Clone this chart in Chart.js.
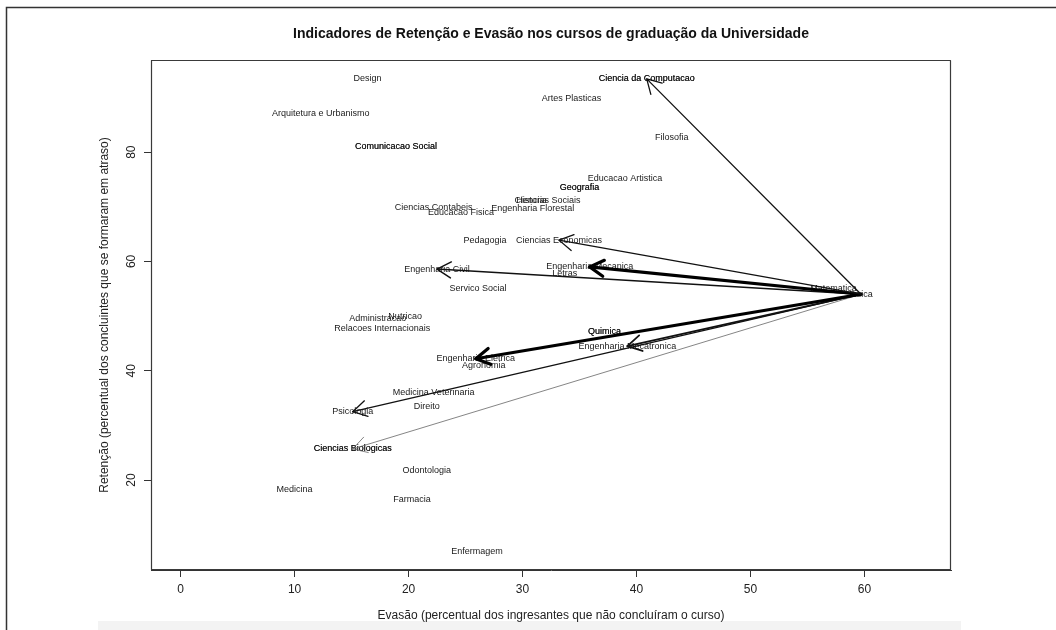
<!DOCTYPE html>
<html>
<head>
<meta charset="utf-8">
<script src="https://cdn.jsdelivr.net/npm/chart.js@4.4.1/dist/chart.umd.min.js"></script>
<style>
  html, body { margin: 0; padding: 0; background: #ffffff; }
  #wrap { width: 1056px; height: 630px; position: relative; }
</style>
</head>
<body>
<div id="wrap"><canvas id="grafico" width="1056" height="630"></canvas></div>
<script>
// Cursos de graduação: evasão (%) e retenção (%)
const cursos = [
  'Design', 'Ciencia da Computacao', 'Ciencia da Computacao', 'Artes Plasticas',
  'Arquitetura e Urbanismo', 'Filosofia', 'Comunicacao Social', 'Comunicacao Social',
  'Educacao Artistica', 'Geografia', 'Geografia', 'Historia', 'Ciencias Sociais',
  'Ciencias Contabeis', 'Educacao Fisica', 'Engenharia Florestal', 'Pedagogia',
  'Ciencias Economicas', 'Engenharia Mecanica', 'Engenharia Civil', 'Letras',
  'Matematica', 'Fisica', 'Servico Social', 'Nutricao', 'Administracao',
  'Relacoes Internacionais', 'Quimica', 'Quimica', 'Engenharia Mecatronica',
  'Engenharia Eletrica', 'Agronomia', 'Medicina Veterinaria', 'Direito', 'Psicologia',
  'Ciencias Biologicas', 'Ciencias Biologicas', 'Odontologia', 'Medicina', 'Farmacia',
  'Enfermagem'
];
const evasao = [
  16.4, 40.9, 40.9, 34.3,
  12.3, 43.1, 18.9, 18.9,
  39.0, 35.0, 35.0, 30.8, 32.2,
  22.2, 24.6, 30.9, 26.7,
  33.2, 35.9, 22.5, 33.7,
  57.3, 59.7, 26.1, 19.7, 17.3,
  17.7, 37.2, 37.2, 39.2,
  25.9, 26.6, 22.2, 21.6, 15.1,
  15.1, 15.1, 21.6, 10.0, 20.3,
  26.0
];
const retencao = [
  93.4, 93.4, 93.4, 89.9,
  87.1, 82.6, 81.0, 81.0,
  75.1, 73.6, 73.6, 71.1, 71.1,
  69.8, 68.9, 69.6, 63.9,
  63.9, 59.0, 58.6, 57.7,
  55.1, 54.0, 55.0, 50.0, 49.5,
  47.8, 47.1, 47.1, 44.5,
  42.2, 40.9, 36.1, 33.4, 32.5,
  25.7, 25.7, 21.7, 18.2, 16.5,
  7.0
];

// Fluxos a partir de um curso de origem
const origem = 'Fisica';
const destinos = [
  'Ciencia da Computacao', 'Ciencias Economicas', 'Engenharia Mecanica', 'Engenharia Civil',
  'Engenharia Eletrica', 'Engenharia Mecatronica', 'Psicologia', 'Ciencias Biologicas'
];

const xTicks = [0, 10, 20, 30, 40, 50, 60];
const yTicks = [20, 40, 60, 80];
const xLimites = [0, 65];

// estilo das setas (espessura e cor), na mesma ordem de "destinos"
const espessuras = [1.3, 1.3, 3.2, 1.5, 3.2, 1.8, 1.3, 0.8];
const coresSeta = ['#111', '#111', '#000', '#111', '#000', '#111', '#111', '#666'];

// expansão de 4% nos limites, como em gráficos base do R
function expandir(min, max) {
  const d = (max - min) * 0.04;
  return [min - d, max + d];
}
const [xMin, xMax] = expandir(xLimites[0], xLimites[1]);
const [yMin, yMax] = expandir(Math.min(...retencao), Math.max(...retencao));

const fonte = '"Liberation Sans", Arial, Helvetica, sans-serif';
const iOrig = cursos.indexOf(origem);

const pontos = cursos.map((c, i) => ({ x: evasao[i], y: retencao[i], nome: c }));

const setas = destinos.map((d, k) => {
  const j = cursos.indexOf(d);
  return {
    type: 'line',
    label: d,
    data: [{ x: evasao[iOrig], y: retencao[iOrig] }, { x: evasao[j], y: retencao[j] }],
    showLine: true,
    borderColor: coresSeta[k],
    borderWidth: espessuras[k],
    borderCapStyle: 'round',
    borderJoinStyle: 'round',
    pointRadius: 0,
    fill: false,
    tension: 0,
    seta: true
  };
});

// moldura externa e faixa inferior
const moldura = {
  id: 'moldura',
  beforeDraw(chart) {
    const ctx = chart.ctx;
    ctx.save();
    ctx.fillStyle = '#ffffff';
    ctx.fillRect(0, 0, chart.width, chart.height);
    ctx.fillStyle = '#f3f3f3';
    ctx.fillRect(98, 621, 863, 9);
    ctx.strokeStyle = '#333';
    ctx.lineWidth = 1.5;
    ctx.beginPath();
    ctx.moveTo(6.5, chart.height);
    ctx.lineTo(6.5, 7.5);
    ctx.lineTo(chart.width, 7.5);
    ctx.stroke();
    ctx.restore();
  }
};

// nomes dos cursos centrados em cada ponto
const rotulos = {
  id: 'rotulos',
  beforeDatasetsDraw(chart) {
    const ctx = chart.ctx;
    const xs = chart.scales.x, ys = chart.scales.y;
    ctx.save();
    ctx.font = '9px ' + fonte;
    ctx.fillStyle = '#1a1a1a';
    ctx.textAlign = 'center';
    ctx.textBaseline = 'middle';
    pontos.forEach(p => {
      ctx.fillText(p.nome, xs.getPixelForValue(p.x), ys.getPixelForValue(p.y));
    });
    ctx.restore();
  }
};

// pontas das setas, caixa do gráfico e rótulos do eixo y
const pontas = {
  id: 'pontas',
  afterDatasetsDraw(chart) {
    const ctx = chart.ctx;
    const xs = chart.scales.x, ys = chart.scales.y;
    ctx.save();
    chart.data.datasets.forEach(ds => {
      if (!ds.seta) return;
      const ox = xs.getPixelForValue(ds.data[0].x), oy = ys.getPixelForValue(ds.data[0].y);
      const tx = xs.getPixelForValue(ds.data[1].x), ty = ys.getPixelForValue(ds.data[1].y);
      const ang = Math.atan2(ty - oy, tx - ox);
      const L = 16, a = Math.PI / 6;
      ctx.strokeStyle = ds.borderColor;
      ctx.lineWidth = ds.borderWidth;
      ctx.lineCap = 'round';
      ctx.lineJoin = 'round';
      ctx.beginPath();
      ctx.moveTo(tx - L * Math.cos(ang - a), ty - L * Math.sin(ang - a));
      ctx.lineTo(tx, ty);
      ctx.lineTo(tx - L * Math.cos(ang + a), ty - L * Math.sin(ang + a));
      ctx.stroke();
    });
    const ca = chart.chartArea;
    ctx.strokeStyle = '#3a3a3a';
    ctx.lineWidth = 1.2;
    ctx.strokeRect(ca.left + 0.5, ca.top + 0.5, ca.right - ca.left - 1, ca.bottom - ca.top - 1);
    ctx.fillStyle = '#222';
    ctx.font = '12px ' + fonte;
    ctx.textAlign = 'center';
    ctx.textBaseline = 'middle';
    yTicks.forEach(v => {
      ctx.save();
      ctx.translate(132, ys.getPixelForValue(v));
      ctx.rotate(-Math.PI / 2);
      ctx.fillText(String(v), 0, 0);
      ctx.restore();
    });
    ctx.restore();
  }
};

new Chart(document.getElementById('grafico'), {
  type: 'scatter',
  data: {
    datasets: [
      { label: 'cursos', data: pontos, pointRadius: 0, showLine: false },
      ...setas
    ]
  },
  options: {
    responsive: false,
    animation: false,
    events: [],
    devicePixelRatio: 1,
    layout: { padding: { left: 0, right: 105, top: 0, bottom: 0 } },
    plugins: {
      legend: { display: false },
      tooltip: { enabled: false },
      title: {
        display: true,
        fullSize: false,
        text: 'Indicadores de Retenção e Evasão nos cursos de graduação da Universidade',
        color: '#111',
        font: { family: fonte, size: 14, weight: 'bold', lineHeight: 1.2 },
        padding: { top: 25.6, bottom: 17.6 }
      }
    },
    scales: {
      x: {
        type: 'linear',
        min: xMin,
        max: xMax,
        afterBuildTicks: s => { s.ticks = xTicks.map(v => ({ value: v })); },
        afterFit: s => { s.height = 60; },
        grid: { drawOnChartArea: false, drawTicks: true, tickLength: 7, color: '#333', lineWidth: 1 },
        border: { display: true, color: '#333', width: 1 },
        ticks: { color: '#222', font: { family: fonte, size: 12 }, padding: 5, maxRotation: 0, autoSkip: false },
        title: {
          display: true,
          text: 'Evasão (percentual dos ingresantes que não concluíram o curso)',
          color: '#222',
          font: { family: fonte, size: 12, lineHeight: 1.2 },
          padding: { top: 0, bottom: 6.8 }
        }
      },
      y: {
        type: 'linear',
        min: yMin,
        max: yMax,
        afterBuildTicks: s => { s.ticks = yTicks.map(v => ({ value: v })); },
        afterFit: s => { s.width = 151; },
        grid: { drawOnChartArea: false, drawTicks: true, tickLength: 7, color: '#333', lineWidth: 1 },
        border: { display: true, color: '#333', width: 1 },
        ticks: { color: 'rgba(0,0,0,0)', font: { family: fonte, size: 12 }, autoSkip: false },
        title: {
          display: true,
          text: 'Retenção (percentual dos concluintes que se formaram em atraso)',
          color: '#222',
          font: { family: fonte, size: 12, lineHeight: 1.2 },
          padding: { top: 97.8, bottom: 0 }
        }
      }
    }
  },
  plugins: [moldura, rotulos, pontas]
});
</script>
</body>
</html>
